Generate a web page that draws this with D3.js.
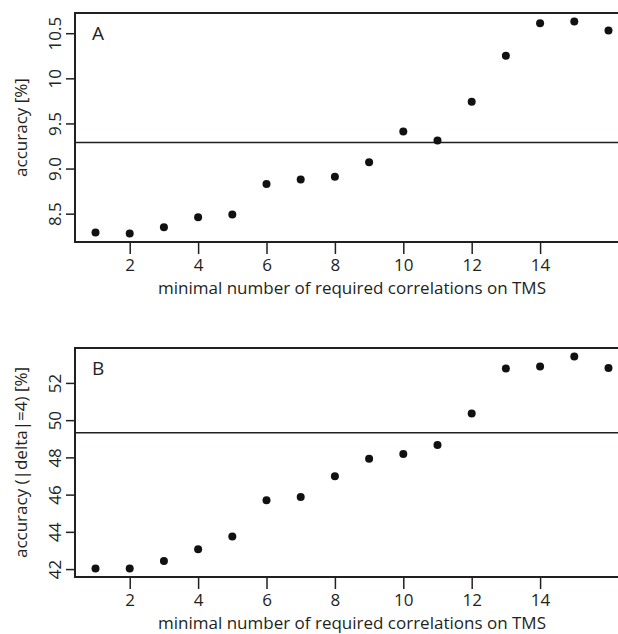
<!DOCTYPE html>
<html>
<head>
<meta charset="utf-8">
<script src="https://cdn.jsdelivr.net/npm/d3@7"></script>
<style>
  body { margin: 0; background: #fff; }
  svg { display: block; }
  text { font-family: "Open Sans", "Noto Sans", sans-serif; fill: #231f20; }
</style>
</head>
<body>
<div id="d3"></div>
<script>
// minimal number of required correlations on TMS
let minCorrelations = [1, 2, 3, 4, 5, 6, 7, 8, 9, 10, 11, 12, 13, 14, 15, 16];
let accuracyA = [8.29, 8.28, 8.35, 8.46, 8.49, 8.83, 8.88, 8.91, 9.07, 9.41, 9.31, 9.74, 10.25, 10.61, 10.63, 10.53];
let accuracyB = [42.03, 42.03, 42.43, 43.07, 43.75, 45.70, 45.87, 46.98, 47.93, 48.18, 48.66, 50.36, 52.77, 52.88, 53.42, 52.80];
let baselineA = 9.29;
let baselineB = 49.32;

let xTicks = [2, 4, 6, 8, 10, 12, 14];
let yTicksA = [8.5, 9.0, 9.5, 10, 10.5];
let yTickLabelsA = ['8.5', '9.0', '9.5', '10', '10.5'];
let yTicksB = [42, 44, 46, 48, 50, 52];
let yTickLabelsB = ['42', '44', '46', '48', '50', '52'];

let xTitle = 'minimal number of required correlations on TMS';

const W = 618, H = 634;
let svg = d3.select('#d3').append('svg').attr('width', W).attr('height', H);

// R style axis range: data extent padded by 4% on each side
function pad(ext) {
    let d = (ext[1] - ext[0]) * 0.04;
    return [ext[0] - d, ext[1] + d];
}

let left = 75, right = 629;
let xscale = d3.scaleLinear().domain(pad(d3.extent(minCorrelations))).range([left, right]);

let panels = [
    { label: 'A', values: accuracyA, base: baselineA, ticks: yTicksA, tickLabels: yTickLabelsA,
      ytitle: 'accuracy [%]', top: 13, bottom: 242 },
    { label: 'B', values: accuracyB, base: baselineB, ticks: yTicksB, tickLabels: yTickLabelsB,
      ytitle: 'accuracy (|delta|=4) [%]', top: 348, bottom: 577 }
];

panels.forEach(function (p) {
    let yscale = d3.scaleLinear().domain(pad(d3.extent(p.values))).range([p.bottom, p.top]);
    let g = svg.append('g');

    // x axis
    let xAxis = d3.axisBottom(xscale).tickValues(xTicks).tickSize(12).tickPadding(5);
    let xg = g.append('g').attr('transform', `translate(0, ${p.bottom})`).call(xAxis);
    xg.select('.domain').remove();
    xg.selectAll('line').attr('stroke', '#231f20').attr('stroke-width', 1.5);
    xg.selectAll('text').attr('font-size', 17).style('font-family', null);

    // y axis
    let yAxis = d3.axisLeft(yscale).tickValues(p.ticks).tickSize(9)
        .tickFormat((d, i) => p.tickLabels[i]);
    let yg = g.append('g').attr('transform', `translate(${left}, 0)`).call(yAxis);
    yg.select('.domain').remove();
    yg.selectAll('line').attr('stroke', '#231f20').attr('stroke-width', 1.5);
    yg.selectAll('text').attr('font-size', 17).style('font-family', null)
        .attr('x', 0).attr('dy', 0).attr('text-anchor', 'middle')
        .attr('transform', 'translate(-14,0) rotate(-90)');

    // box
    g.append('rect').attr('x', left).attr('y', p.top)
        .attr('width', right - left).attr('height', p.bottom - p.top)
        .attr('fill', 'none').attr('stroke', '#231f20').attr('stroke-width', 2);

    // reference line
    g.append('line').attr('x1', left).attr('x2', right)
        .attr('y1', yscale(p.base)).attr('y2', yscale(p.base))
        .attr('stroke', '#231f20').attr('stroke-width', 1.5);

    // points
    g.append('g').selectAll('circle').data(p.values).enter().append('circle')
        .attr('cx', (d, i) => xscale(minCorrelations[i]))
        .attr('cy', (d) => yscale(d))
        .attr('r', 4).attr('fill', '#111');

    // panel label
    g.append('text').attr('x', 92).attr('y', p.top + 27).attr('font-size', 19).text(p.label);

    // titles
    g.append('text').attr('x', (left + right) / 2).attr('y', p.bottom + 52)
        .attr('text-anchor', 'middle').attr('font-size', 17).text(xTitle);
    g.append('text').attr('transform', `translate(27, ${(p.top + p.bottom) / 2}) rotate(-90)`)
        .attr('text-anchor', 'middle').attr('font-size', 17).text(p.ytitle);
});
</script>
</body>
</html>
